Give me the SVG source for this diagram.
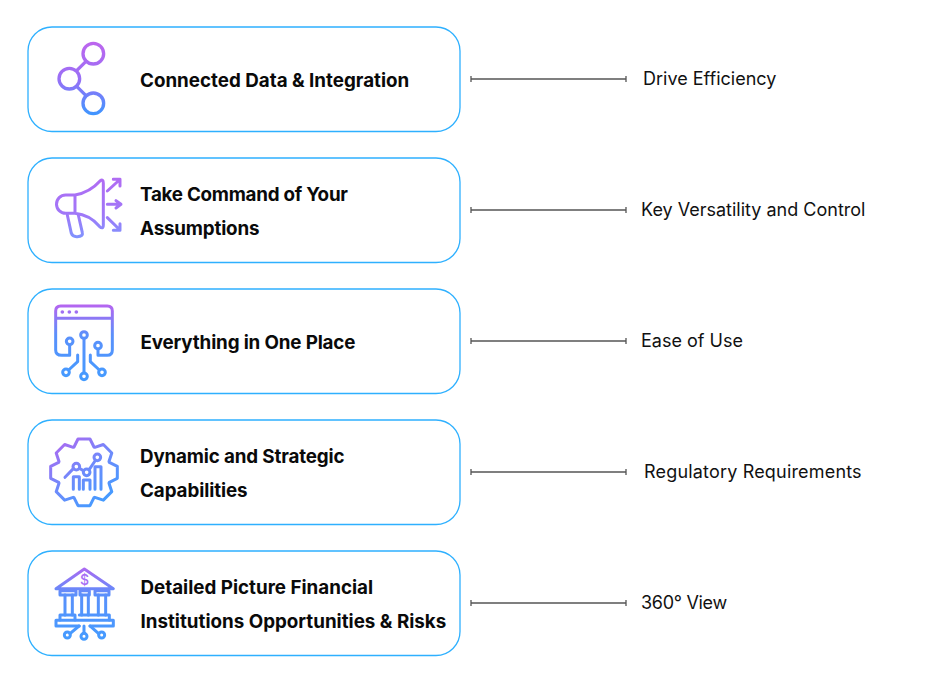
<svg xmlns="http://www.w3.org/2000/svg" width="937" height="685" viewBox="0 0 937 685">
<style>
.box{fill:#fff;stroke:#2eb0ff;stroke-width:1.3}
.t{font-family:Inter,"Liberation Sans",sans-serif;font-size:18.800px;font-weight:700;fill:#0a0a0a}
.l{font-family:Inter,"Liberation Sans",sans-serif;font-size:18px;font-weight:400;fill:#111}
.c{stroke:#555;stroke-width:1.300;fill:none}
.i{fill:none;stroke-width:9;stroke-linecap:round;stroke-linejoin:round}
</style>
<defs>
<linearGradient id="g1" gradientUnits="userSpaceOnUse" x1="0" y1="65" x2="0" y2="285"><stop offset="0" stop-color="#bd66ee"/><stop offset=".5" stop-color="#9a6ff6"/><stop offset="1" stop-color="#3e96ff"/></linearGradient>
<linearGradient id="g2" gradientUnits="userSpaceOnUse" x1="0" y1="40" x2="0" y2="220"><stop offset="0" stop-color="#b06cf3"/><stop offset=".6" stop-color="#a077f8"/><stop offset="1" stop-color="#7f94fe"/></linearGradient>
<linearGradient id="g3" gradientUnits="userSpaceOnUse" x1="0" y1="30" x2="0" y2="255"><stop offset="0" stop-color="#b565f0"/><stop offset=".4" stop-color="#5a90fb"/><stop offset="1" stop-color="#449bff"/></linearGradient>
<linearGradient id="g4" gradientUnits="userSpaceOnUse" x1="60" y1="42" x2="200" y2="243"><stop offset="0" stop-color="#b565f0"/><stop offset=".55" stop-color="#6f8afb"/><stop offset="1" stop-color="#449bff"/></linearGradient>
<linearGradient id="g5" gradientUnits="userSpaceOnUse" x1="-102" y1="-100" x2="38" y2="101"><stop offset="0" stop-color="#b565f0"/><stop offset=".55" stop-color="#6f8afb"/><stop offset="1" stop-color="#449bff"/></linearGradient>
</defs>
<g id="connectors">
<path class="c" d="M471 79H626M471 76V82M626 76V82"/>
<path class="c" d="M471 210H626M471 207V213M626 207V213"/>
<path class="c" d="M471 341H626M471 338V344M626 338V344"/>
<path class="c" d="M471 472H626M471 469V475M626 469V475"/>
<path class="c" d="M471 603H626M471 600V606M626 600V606"/>
</g>
<g id="node-1">
<rect class="box" x="28" y="27" width="432" height="104.500" rx="24"/>
<g transform="translate(20 20) scale(.3333)" class="i" stroke="url(#g1)" style="stroke-width:10">
<circle cx="220" cy="101" r="31"/><circle cx="148" cy="176" r="31"/><circle cx="220" cy="250" r="31"/>
<path d="M170 152L198 124M170 199L198 227"/>
</g>
<text class="t" x="140" y="87">Connected Data &amp; Integration</text>
</g>
<g id="node-2">
<rect class="box" x="28" y="158" width="432" height="104.500" rx="24"/>
<g transform="translate(30 165) scale(.3333)" class="i" stroke="url(#g2)">
<path d="M135 90Q180 82 210 48Q220 40 220 55V180Q220 195 208 184Q180 150 135 145H107A27.500 27.500 0 0 1 107 90ZM135 90V145"/>
<path d="M112 150L124 205Q128 216 142 215Q160 214 157 203L145 150"/>
<path d="M232 78L268 45M250 43H270V63M232 118H272M258 107L273 118L258 129M232 158L270 195M270 176V196H250"/>
</g>
<text class="t" x="140" y="201" style="letter-spacing:-.25px">Take Command of Your</text>
<text class="t" x="140" y="235" style="letter-spacing:-.18px">Assumptions</text>
</g>
<g id="node-3">
<rect class="box" x="28" y="289" width="432" height="104.500" rx="24"/>
<g transform="translate(30 295) scale(.3333)" class="i" stroke="url(#g3)">
<path d="M119 150V181H95Q77 181 77 165V48Q77 33 92 33H232Q247 33 247 48V165Q247 181 232 181H204V162M77 70H247"/>
<path d="M97 51h.1M118 51h.1M139 51h.1" style="stroke-width:11"/>
<circle cx="119" cy="139" r="10"/><circle cx="204" cy="152" r="10"/><circle cx="162" cy="120" r="10"/><circle cx="162" cy="244" r="10"/><circle cx="108" cy="232" r="10"/><circle cx="216" cy="232" r="10"/>
<path d="M162 130V234M143 180V200L116 225M181 180V200L208 225"/>
</g>
<text class="t" x="140.500" y="349" style="letter-spacing:-.15px">Everything in One Place</text>
</g>
<g id="node-4">
<rect class="box" x="28" y="420" width="432" height="104.500" rx="24"/>
<g transform="translate(30 425) scale(.3333)" class="i" stroke="url(#g4)">
<path stroke="url(#g5)" transform="translate(162 142)" d="M-30-76L-18-100H18L30-76L32.500-75L58-83.400L83.400-58L75-32.500L76-30L100-18V18L76 30L75 32.500L83.400 58L58 83.400L32.500 75L30 76L18 100H-18L-30 76L-32.500 75L-58 83.400L-83.400 58L-75 32.500L-76 30L-100 18V-18L-76-30L-75-32.500L-83.400-58L-58-83.400L-32.500-75Z"/>
<path d="M130 193V155H148V193M160 193V165H180V193M195 193V125H213V193"/>
<path d="M105 157L130 131M148 130L160 137M178 133L195 108"/>
<circle cx="139" cy="125" r="10"/><circle cx="170" cy="142" r="10"/><circle cx="202" cy="97" r="10"/>
</g>
<text class="t" x="140" y="463" style="letter-spacing:-.15px">Dynamic and Strategic</text>
<text class="t" x="140" y="497" style="letter-spacing:-.08px">Capabilities</text>
</g>
<g id="node-5">
<rect class="box" x="28" y="551" width="432" height="104.500" rx="24"/>
<g transform="translate(30 555) scale(.3333)" class="i" stroke="url(#g3)">
<path d="M78 101L163 42L250 101Z"/>
<path d="M90 107H138V120H90ZM150 107H178V120H150ZM195 107H237V120H195Z"/>
<path d="M105 120V180M127 120V180M155 120V180M175 120V180M205 120V180M227 120V180"/>
<path d="M90 195V180H135V195M148 180H238V195"/>
<path d="M148 196H78V213H148M180 213H250V196H110"/>
<path d="M162 213V234M147 213L120 236M180 213L206 236"/>
<circle cx="162" cy="244" r="9"/><circle cx="112" cy="240" r="9"/><circle cx="215" cy="240" r="9"/>
</g>
<text x="84.500" y="585" text-anchor="middle" style="font-family:Inter,'Liberation Sans',sans-serif;font-size:14px;font-weight:500;fill:#a870f5">$</text>
<text class="t" x="140.500" y="594">Detailed Picture Financial</text>
<text class="t" x="140.500" y="628">Institutions Opportunities &amp; Risks</text>
</g>
<g id="labels">
<text class="l" x="643" y="85">Drive Efficiency</text>
<text class="l" x="641" y="216">Key Versatility and Control</text>
<text class="l" x="641" y="347">Ease of Use</text>
<text class="l" x="644" y="478" style="letter-spacing:.18px">Regulatory Requirements</text>
<text class="l" x="641" y="609" style="letter-spacing:-.3px">360° View</text>
</g>
</svg>
